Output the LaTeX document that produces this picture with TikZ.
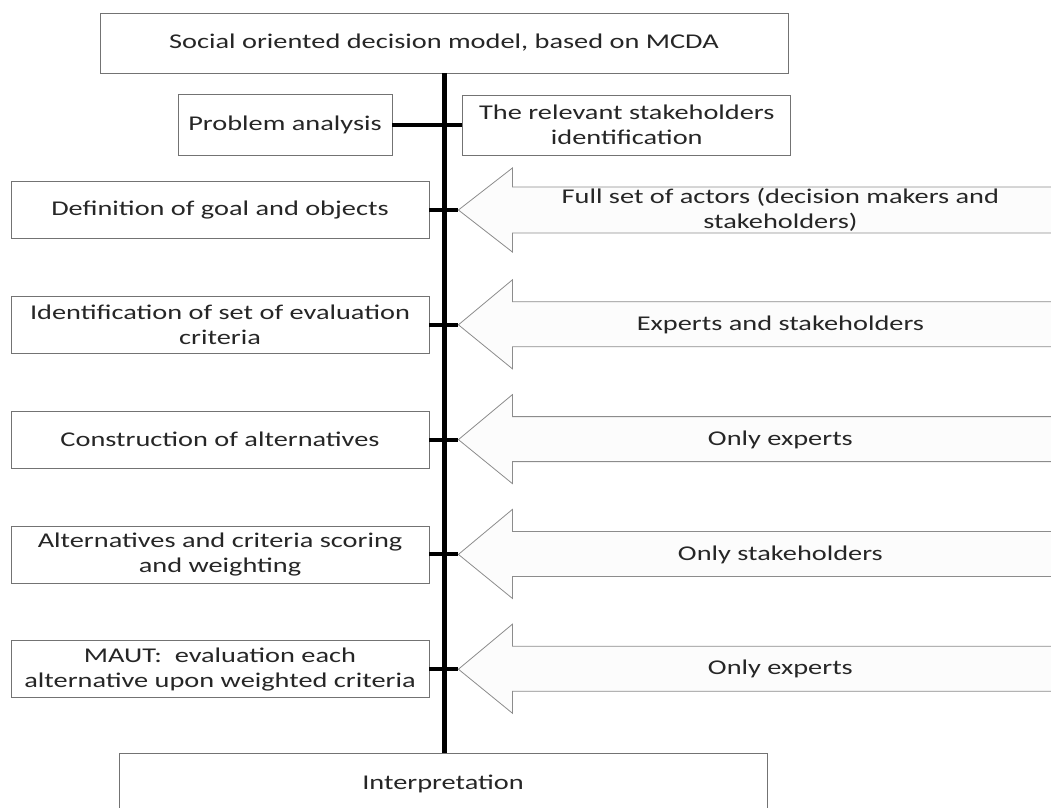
\documentclass[tikz,border=0pt]{standalone}
\usepackage{fontspec}
\setmainfont{Carlito}[FakeStretch=1.35]
\usetikzlibrary{positioning}

\begin{document}
\begin{tikzpicture}[x=1pt,y=-1pt,
		every node/.style={
			rectangle,
			draw=black!55,
			fill=white,
			line width=0.8pt,
			align=center,
			inner sep=0pt,
			text=black!85,
			font=\fontsize{21}{25}\selectfont
		},
		stage/.style={
			minimum width=418pt,
			minimum height=57pt
		},
		actor/.style={
			draw=black!45,
			fill=black!1,
			line width=0.8pt
		},
		actortext/.style={
			draw=none,
			fill=none
		},
		bar/.style={line width=5pt, black},
		tick/.style={line width=4pt, black},
		node distance=57pt]

		\useasboundingbox (0,0) rectangle (1051,807);
		\clip (0,0) rectangle (1051,807);

		%top of the model
		\node[minimum width=688pt, minimum height=60pt] at (444,43) (title) {Social oriented decision model, based on MCDA};
		\node[minimum width=214pt, minimum height=61pt] at (285,125) (prob) {Problem analysis};
		\node[right=70pt of prob, minimum width=328pt, minimum height=60pt] (stake) {The relevant stakeholders\\identification};

		%stages
		\node[stage] at (220,210) (def) {Definition of goal and objects};
		\node[stage, below=of def] (ident) {Identification of set of evaluation\\criteria};
		\node[stage, below=of ident] (constr) {Construction of alternatives};
		\node[stage, below=of constr] (alt) {Alternatives and criteria scoring\\and weighting};
		\node[stage, below=of alt] (maut) {MAUT:\ \ evaluation each\\alternative upon weighted criteria};

		\node[minimum width=648pt, minimum height=62pt] at (443,784) (interp) {Interpretation};

		\coordinate[right=29pt of def.east] (tip1);
		\coordinate[right=29pt of ident.east] (tip2);
		\coordinate[right=29pt of constr.east] (tip3);
		\coordinate[right=29pt of alt.east] (tip4);
		\coordinate[right=29pt of maut.east] (tip5);

		%actors
		\draw[actor] (tip1) -- ++(54,-42) -- ++(0,19) -- ++(560,0) -- ++(0,46) -- ++(-560,0) -- ++(0,19) -- cycle;
		\node[actortext] at ([xshift=322pt]tip1) (act1) {Full set of actors (decision makers and\\stakeholders)};

		\draw[actor] (tip2) -- ++(54,-45) -- ++(0,22) -- ++(560,0) -- ++(0,45) -- ++(-560,0) -- ++(0,22) -- cycle;
		\node[actortext] at ([xshift=322pt]tip2) (act2) {Experts and stakeholders};

		\draw[actor] (tip3) -- ++(54,-45) -- ++(0,22) -- ++(560,0) -- ++(0,45) -- ++(-560,0) -- ++(0,22) -- cycle;
		\node[actortext] at ([xshift=322pt]tip3) (act3) {Only experts};

		\draw[actor] (tip4) -- ++(54,-45) -- ++(0,22) -- ++(560,0) -- ++(0,45) -- ++(-560,0) -- ++(0,22) -- cycle;
		\node[actortext] at ([xshift=322pt]tip4) (act4) {Only stakeholders};

		\draw[actor] (tip5) -- ++(54,-45) -- ++(0,22) -- ++(560,0) -- ++(0,45) -- ++(-560,0) -- ++(0,22) -- cycle;
		\node[actortext] at ([xshift=322pt]tip5) (act5) {Only experts};

		%spine and ticks
		\draw[bar] (title.south) -- (title.south |- interp.north);
		\draw[tick] (prob.east) -- (stake.west);
		\draw[tick] (def.east) -- (tip1);
		\draw[tick] (ident.east) -- (tip2);
		\draw[tick] (constr.east) -- (tip3);
		\draw[tick] (alt.east) -- (tip4);
		\draw[tick] (maut.east) -- (tip5);

	\end{tikzpicture}
\end{document}
